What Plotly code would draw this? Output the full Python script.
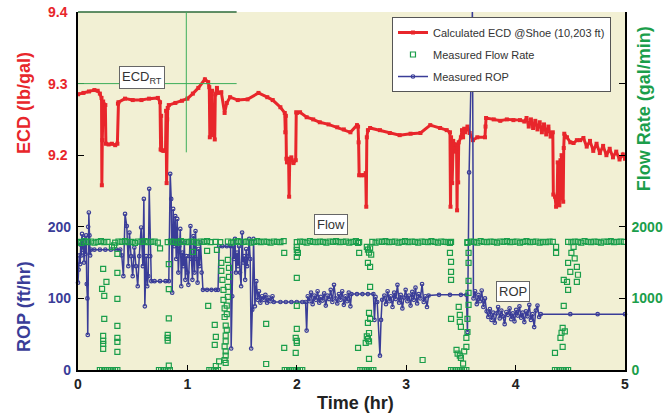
import plotly.graph_objects as go

# ---------------- ECD (lb/gal) vs time (hr) ----------------
ecd_time = [
    0.00, 0.05, 0.10, 0.15, 0.18, 0.20,
    0.215, 0.218, 0.222, 0.23, 0.25, 0.255, 0.28, 0.31, 0.34, 0.36, 0.365,
    0.37, 0.43, 0.50, 0.58, 0.65, 0.73, 0.75,
    0.755, 0.76, 0.765, 0.78, 0.80, 0.805, 0.81, 0.815, 0.82, 0.83,
    0.89, 0.95, 1.00, 1.05, 1.10, 1.16, 1.19, 1.20,
    1.205, 1.21, 1.215, 1.225, 1.23, 1.24, 1.25, 1.255, 1.27,
    1.28, 1.31, 1.34, 1.36, 1.39, 1.46, 1.55, 1.65, 1.73, 1.78, 1.85, 1.89,
    1.895, 1.90, 1.905, 1.91, 1.925, 1.93, 1.935, 1.95, 1.97, 1.99, 1.995,
    2.00, 2.03, 2.09, 2.15, 2.21, 2.29, 2.37, 2.43, 2.49, 2.55,
    2.56, 2.565, 2.57, 2.59, 2.61, 2.63, 2.635, 2.64, 2.65, 2.67,
    2.76, 2.85, 2.94, 3.04, 3.13, 3.22, 3.31, 3.37, 3.40,
    3.405, 3.41, 3.42, 3.43, 3.44, 3.45, 3.46, 3.465, 3.47, 3.475, 3.48, 3.50, 3.51, 3.52, 3.53, 3.54, 3.56,
    3.58, 3.61, 3.65, 3.72, 3.725, 3.73, 3.80, 3.86, 3.92, 3.98, 4.04, 4.08,
    4.10, 4.12, 4.14, 4.16, 4.18, 4.20, 4.22, 4.24, 4.26, 4.28, 4.30, 4.32, 4.34,
    4.345, 4.36, 4.37, 4.38, 4.385, 4.39, 4.40, 4.41, 4.415, 4.42, 4.43, 4.435, 4.44, 4.445,
    4.47, 4.50, 4.53, 4.56, 4.59, 4.62, 4.65, 4.68, 4.71, 4.74, 4.77, 4.80, 4.83, 4.86, 4.89, 4.92, 4.95, 4.98, 5.00,
]
ecd_value = [
    9.285, 9.287, 9.289, 9.291, 9.290, 9.286,
    9.280, 9.158, 9.221, 9.275, 9.270, 9.216, 9.215, 9.216, 9.214, 9.216, 9.272,
    9.274, 9.279, 9.277, 9.277, 9.279, 9.280, 9.274,
    9.208, 9.255, 9.207, 9.206, 9.207, 9.262, 9.161, 9.250, 9.266, 9.270,
    9.273, 9.276, 9.279, 9.286, 9.294, 9.306, 9.302, 9.295,
    9.225, 9.280, 9.230, 9.290, 9.228, 9.232, 9.222, 9.285, 9.294,
    9.287, 9.288, 9.259, 9.273, 9.281, 9.277, 9.278, 9.287, 9.281, 9.277, 9.267, 9.259,
    9.232, 9.255, 9.195, 9.190, 9.195, 9.142, 9.190, 9.197, 9.189, 9.193, 9.260,
    9.259, 9.260, 9.253, 9.250, 9.246, 9.243, 9.239, 9.236, 9.232, 9.242,
    9.240, 9.218, 9.172, 9.172, 9.172, 9.175, 9.128, 9.225, 9.235, 9.238,
    9.235, 9.231, 9.228, 9.230, 9.231, 9.242, 9.238, 9.235, 9.232,
    9.128, 9.225, 9.161, 9.220, 9.215, 9.205, 9.215, 9.123, 9.210, 9.162, 9.218, 9.225, 9.235, 9.225, 9.237, 9.232, 9.240,
    9.231, 9.221, 9.225, 9.225, 9.240, 9.252, 9.250, 9.248, 9.250, 9.249, 9.249, 9.247,
    9.252, 9.240, 9.250, 9.238, 9.248, 9.236, 9.246, 9.232, 9.243, 9.229, 9.240, 9.226, 9.232,
    9.145, 9.142, 9.128, 9.142, 9.190, 9.142, 9.130, 9.193, 9.140, 9.200, 9.195, 9.135, 9.210, 9.230,
    9.225, 9.218, 9.217, 9.221, 9.221, 9.224, 9.212, 9.220, 9.206, 9.216, 9.203, 9.213, 9.200, 9.209, 9.197, 9.205, 9.194, 9.201, 9.195,
]

# ---------------- Measured ROP (ft/hr) ----------------
rop_time = [
    0.000, 0.006, 0.012, 0.020, 0.025, 0.031, 0.037, 0.043, 0.049, 0.055, 0.062, 0.068, 0.074, 0.080, 0.086, 0.089, 0.093, 0.099, 0.105, 0.111,
    0.118, 0.15, 0.20, 0.25, 0.30, 0.35, 0.386,
    0.400, 0.415, 0.430, 0.446, 0.460, 0.470, 0.485, 0.500, 0.515, 0.530, 0.546, 0.560, 0.577, 0.593, 0.602, 0.611, 0.623, 0.633, 0.642, 0.651, 0.660, 0.670,
    0.70, 0.75, 0.80, 0.83,
    0.843, 0.852, 0.861, 0.870, 0.880, 0.889, 0.898, 0.907, 0.917, 0.926, 0.935, 0.944, 0.954, 0.963, 0.972, 0.981, 0.991, 1.000, 1.009, 1.019,
    1.028, 1.037, 1.046, 1.056, 1.065, 1.074, 1.083, 1.093, 1.102, 1.111, 1.120, 1.130, 1.142,
    1.18, 1.22, 1.26, 1.28,
    1.29, 1.32, 1.36, 1.395,
    1.400, 1.410, 1.417, 1.426, 1.435, 1.444, 1.454, 1.463, 1.472, 1.481, 1.491, 1.500, 1.509, 1.519, 1.528, 1.537, 1.546, 1.556, 1.565, 1.574,
    1.583, 1.593, 1.605, 1.617, 1.630, 1.642, 1.654, 1.667, 1.682, 1.698, 1.713, 1.728, 1.744, 1.759, 1.778, 1.790,
    1.85, 1.90, 1.95, 2.00, 2.05, 2.08,
    2.090, 2.100, 2.115, 2.130, 2.145, 2.160, 2.175, 2.190, 2.205, 2.220, 2.235, 2.250, 2.265, 2.280, 2.295, 2.310, 2.325, 2.340, 2.355, 2.370,
    2.385, 2.400, 2.415, 2.430, 2.445, 2.460, 2.475, 2.490,
    2.50, 2.55, 2.60, 2.65, 2.70,
    2.710, 2.720, 2.735, 2.760, 2.770, 2.780,
    2.800, 2.815, 2.830, 2.845, 2.860, 2.875, 2.890, 2.905, 2.920, 2.935, 2.950, 2.965, 2.980, 2.995, 3.010, 3.025, 3.040, 3.055, 3.070, 3.085,
    3.100, 3.115, 3.130, 3.145, 3.160, 3.175, 3.190, 3.205,
    3.30, 3.40, 3.50, 3.55,
    3.560, 3.575, 3.605, 3.615, 3.630, 3.645, 3.660, 3.675, 3.690, 3.705, 3.720,
    3.735, 3.750, 3.765, 3.780, 3.795, 3.810, 3.825, 3.840, 3.855, 3.870, 3.885, 3.900, 3.915, 3.930, 3.945, 3.960, 3.975, 3.990, 4.005, 4.020,
    4.035, 4.050, 4.065, 4.080, 4.095, 4.110, 4.125, 4.140, 4.155, 4.170, 4.185, 4.200, 4.215, 4.230,
    4.50, 4.75, 5.00,
]
rop_value = [
    122, 140, 160, 148, 175, 160, 190, 168, 184, 150, 178, 162, 188, 120, 100, 49, 200, 220, 188, 160,
    168, 168, 168, 168, 168, 168, 168,
    160, 131, 218, 201, 145, 192, 159, 131, 171, 145, 117, 159, 199, 145, 239, 89, 159, 117, 131, 253, 159, 124,
    124, 124, 124, 124,
    274, 239, 108, 225, 173, 215, 155, 211, 136, 173, 197, 117, 164, 145, 178, 126, 159, 136, 119, 159,
    201, 155, 126, 187, 136, 194, 155, 122, 169, 145, 178, 136, 112,
    112, 112, 112, 112,
    173, 173, 173, 173,
    30, 103, 173, 155, 183, 136, 164, 145, 173, 136, 117, 192, 150, 159, 126, 169, 145, 159, 183, 155,
    30, 84, 183, 89, 124, 98, 110, 94, 103, 98, 105, 94, 101, 96, 103, 95,
    95, 95, 95, 95, 95, 95,
    55, 103, 96, 108, 92, 104, 98, 110, 94, 102, 97, 107, 90, 104, 99, 112, 95, 119, 100, 93,
    106, 98, 110, 91, 103, 96, 108, 89,
    106, 106, 106, 106, 106,
    70, 102, 95, 20, 70, 98,
    104, 92, 110, 96, 103, 88, 108, 99, 119, 94, 105, 86, 101, 112, 96, 104, 90, 109, 98, 115,
    93, 106, 100, 120, 95, 103, 88, 104,
    105, 105, 105, 105,
    53, 276, 502, 100, 110, 92, 105, 96, 111, 88, 100,
    82, 74, 85, 70, 80, 66, 79, 88, 72, 83, 75, 64, 81, 77, 86, 71, 79, 68, 84, 76,
    89, 73, 80, 67, 82, 75, 91, 70, 78, 60, 83, 90, 74, 78,
    78, 78, 78,
]

# ---------------- Measured Flow Rate (gal/min) ----------------
flow_time = [
    0.00, 0.03, 0.06, 0.09, 0.12, 0.15, 0.18, 0.21, 0.24, 0.27,
    0.34, 0.37, 0.40, 0.43, 0.46, 0.49, 0.52, 0.55, 0.58, 0.61, 0.64, 0.67, 0.70, 0.73,
    0.82, 0.85, 0.88, 0.91, 0.94, 0.97, 1.00, 1.03, 1.06, 1.09, 1.12, 1.15, 1.18, 1.21,
    1.26, 1.30, 1.37, 1.40, 1.43, 1.46, 1.49, 1.52, 1.55, 1.58, 1.61, 1.64, 1.67, 1.70, 1.73, 1.76, 1.79, 1.82, 1.85, 1.88,
    2.00, 2.03, 2.06, 2.09, 2.12, 2.15, 2.18, 2.21, 2.24, 2.27, 2.30, 2.33, 2.36, 2.39, 2.42, 2.45, 2.48, 2.51, 2.54, 2.57,
    2.69, 2.72, 2.75, 2.78, 2.81, 2.84, 2.87, 2.90, 2.93, 2.96, 2.99, 3.02, 3.05, 3.08, 3.11, 3.14, 3.17, 3.20, 3.23, 3.26,
    3.29, 3.32, 3.35, 3.38, 3.41,
    3.56, 3.59, 3.62, 3.65, 3.68, 3.71, 3.74, 3.77, 3.80, 3.83, 3.86, 3.89, 3.92, 3.95, 3.98, 4.01, 4.04, 4.07, 4.10, 4.13,
    4.16, 4.19, 4.22, 4.25, 4.28, 4.31, 4.34,
    4.48, 4.51, 4.54, 4.57, 4.60, 4.63, 4.66, 4.69, 4.72, 4.75, 4.78, 4.81, 4.84, 4.87, 4.90, 4.93, 4.96, 4.99,
]
flow_rate = [
    1790, 1775, 1800, 1785, 1795, 1780, 1790, 1800, 1785, 1790,
    1780, 1795, 1790, 1800, 1785, 1790, 1775, 1795, 1790, 1800, 1785, 1790, 1795, 1780,
    1785, 1795, 1790, 1780, 1800, 1790, 1785, 1795, 1790, 1780, 1795, 1790, 1800, 1785,
    1790, 1785, 1795, 1780, 1790, 1800, 1785, 1790, 1795, 1780, 1790, 1800, 1785, 1795, 1790, 1780, 1795, 1790, 1785, 1800,
    1785, 1795, 1790, 1780, 1800, 1790, 1785, 1795, 1790, 1780, 1795, 1790, 1800, 1785, 1790, 1795, 1780, 1790, 1800, 1785,
    1790, 1780, 1795, 1790, 1800, 1785, 1790, 1795, 1780, 1790, 1800, 1785, 1795, 1790, 1780, 1795, 1790, 1785, 1800, 1790,
    1780, 1795, 1790, 1785, 1790,
    1785, 1795, 1790, 1780, 1800, 1790, 1785, 1795, 1790, 1780, 1795, 1790, 1800, 1785, 1790, 1795, 1780, 1790, 1800, 1785,
    1790, 1795, 1780, 1790, 1785, 1795, 1790,
    1790, 1785, 1795, 1790, 1780, 1800, 1790, 1785, 1795, 1790, 1780, 1795, 1790, 1800, 1785, 1790, 1795, 1790,
]
# pump-off / pump-on (connection) readings
flow_conn_time = [
    0.20, 0.22, 0.24, 0.26, 0.28, 0.30, 0.32, 0.34, 0.36,
    0.23, 0.26, 0.22, 0.24, 0.24, 0.23, 0.23, 0.23, 0.23, 0.36, 0.36, 0.36, 0.36, 0.36, 0.36, 0.36, 0.31, 0.33,
    0.74, 0.76, 0.78, 0.80, 0.82, 0.84,
    0.75, 0.83, 0.83, 0.83, 0.82, 0.82, 0.82, 0.83,
    1.20, 1.22, 1.24, 1.26, 1.28,
    1.05, 1.18, 1.19, 1.27, 1.31, 1.37, 1.31, 1.38, 1.32, 1.38, 1.33, 1.37, 1.33, 1.37, 1.34, 1.36, 1.34, 1.36,
    1.35, 1.36, 1.35, 1.35, 1.34, 1.35, 1.35, 1.34, 1.35, 1.26, 1.29, 1.25, 1.26, 1.25,
    1.89, 1.91, 1.93, 1.95, 1.97, 1.99, 2.01, 2.03, 2.05,
    1.885, 1.885, 1.72, 1.72, 2.00, 2.00, 2.01, 2.00, 2.00, 2.00, 2.00, 1.99, 2.00, 2.00, 1.99,
    2.58, 2.60, 2.62, 2.64, 2.66, 2.68, 2.70,
    2.56, 2.57, 2.64, 2.65, 2.66, 2.67, 2.68, 2.65, 2.67, 2.67, 2.66, 2.67, 2.65, 2.66, 2.64, 2.65, 2.66, 2.63, 2.56, 2.66, 3.15,
    3.41, 3.43, 3.45, 3.47, 3.49, 3.51, 3.53, 3.55,
    3.40, 3.40, 3.41, 3.41, 3.41, 3.41, 3.48, 3.49, 3.49, 3.50, 3.46, 3.47, 3.49, 3.50,
    3.56, 3.57, 3.57, 3.57, 3.57, 3.57, 3.56, 3.56, 3.55, 3.55, 3.53, 3.52,
    4.36, 4.38, 4.40, 4.42, 4.44, 4.46, 4.48,
    4.37, 4.37, 4.44, 4.47, 4.48, 4.50, 4.51, 4.53, 4.54, 4.56, 4.57, 4.56, 4.48, 4.44, 4.43, 4.42, 4.45, 4.41, 4.43, 4.36,
]
flow_conn_rate = [
    0, 0, 0, 0, 0, 0, 0, 0, 0,
    1413, 1231, 1133, 1035, 713, 476, 406, 364, 294, 1622, 1357, 993, 615, 448, 392, 252, 1720, 1740,
    0, 0, 0, 0, 0, 0,
    1700, 1480, 1130, 720, 490, 450, 410, 60,
    0, 0, 0, 0, 0,
    1650, 1664, 895, 1678, 1497, 1538, 1385, 1427, 1259, 1301, 1120, 1160, 980, 1020, 860, 900, 740, 780,
    620, 560, 480, 400, 330, 260, 200, 140, 100, 56, 120, 630, 462, 350,
    0, 0, 0, 0, 0, 0, 0, 0, 0,
    1636, 308, 643, 84, 1720, 1678, 1636, 1580, 1287, 895, 573, 448, 406, 378, 238,
    0, 0, 0, 0, 0, 0, 0,
    1776, 1636, 1720, 1680, 1640, 1700, 1610, 1497, 1440, 1161, 797, 713, 657, 517, 470, 430, 400, 378, 308, 154, 140,
    0, 0, 0, 0, 0, 0, 0, 0,
    1776, 1636, 1510, 1371, 1259, 713, 881, 769, 671, 601, 280, 230, 200, 168,
    1776, 1636, 1496, 1245, 1077, 909, 713, 531, 448, 322, 260, 90,
    0, 0, 0, 0, 0, 0, 0,
    1720, 1636, 1259, 1231, 1497, 1371, 1636, 1720, 1560, 1440, 1330, 1231, 1119, 895, 587, 520, 540, 450, 322, 238,
]

# ---------------- tick labels ----------------
time_ticks = [0, 1, 2, 3, 4, 5]
ecd_ticks = [9.2, 9.3, 9.4]
rop_ticks = [0, 100, 200]
flow_ticks = [0, 1000, 2000]

RED = "#e8262b"
BLUE = "#3a3d98"
GREEN = "#1b9e4b"
FONT = "Liberation Sans, Arial, sans-serif"

fig = go.Figure()

fig.add_trace(go.Scatter(
    x=ecd_time, y=ecd_value, name="Calculated ECD @Shoe (10,203 ft)",
    mode="lines+markers", yaxis="y", legendgroup="a",
    line=dict(color=RED, width=3), marker=dict(color=RED, size=4, symbol="square"),
))
fig.add_trace(go.Scatter(
    x=flow_time + flow_conn_time, y=flow_rate + flow_conn_rate, name="Measured Flow Rate",
    mode="markers", yaxis="y3", legendgroup="b",
    marker=dict(color=GREEN, size=5, symbol="square-open", line=dict(width=1.2, color=GREEN)),
))
fig.add_trace(go.Scatter(
    x=rop_time, y=rop_value, name="Measured ROP",
    mode="lines+markers", yaxis="y2", cliponaxis=False, legendgroup="c",
    line=dict(color=BLUE, width=1.5), marker=dict(color=BLUE, size=3.5, symbol="circle-open", line=dict(width=1.2)),
))

fig.update_layout(
    width=667, height=413,
    margin=dict(l=78, r=42, t=12, b=43, autoexpand=False),
    paper_bgcolor="white", plot_bgcolor="#f2f0d4",
    font=dict(family=FONT),
    xaxis=dict(
        range=[0, 5], tickvals=time_ticks, ticktext=[f"<b>{v}</b>" for v in time_ticks],
        tickfont=dict(family=FONT, size=14, color="#222"),
        ticks="inside", ticklen=5, tickcolor="black",
        showline=True, linecolor="black", linewidth=1.5,
        showgrid=False, zeroline=False, automargin=False,
    ),
    yaxis=dict(
        range=[8.9, 9.4], tickvals=ecd_ticks, ticktext=[f"<b>{v}</b>" for v in ecd_ticks],
        tickfont=dict(family=FONT, size=14, color=RED),
        ticks="inside", ticklen=6, tickcolor="black", mirror="ticks",
        showline=True, linecolor="black", linewidth=1.5,
        showgrid=False, zeroline=False, ticklabelstandoff=6, automargin=False,
    ),
    yaxis2=dict(
        range=[0, 500], overlaying="y", side="left", tickvals=rop_ticks,
        ticktext=[f"<b>{v}</b>" for v in rop_ticks],
        tickfont=dict(family=FONT, size=14, color=BLUE),
        ticks="inside", ticklen=6, tickcolor="black",
        showline=False, showgrid=False, zeroline=False, ticklabelstandoff=6, automargin=False,
    ),
    yaxis3=dict(
        range=[0, 5000], overlaying="y", side="right", tickvals=flow_ticks,
        ticktext=[f"<b>{v}</b>" for v in flow_ticks],
        tickfont=dict(family=FONT, size=14, color=GREEN),
        ticks="inside", ticklen=6, tickcolor="black",
        showline=True, linecolor="black", linewidth=1.5,
        showgrid=False, zeroline=False, ticklabelstandoff=2, automargin=False,
    ),
    legend=dict(
        x=0.574, y=0.986, xanchor="left", yanchor="top",
        bgcolor="white", bordercolor="#555", borderwidth=1,
        font=dict(family=FONT, size=11, color="#333"),
        itemwidth=30, tracegroupgap=3,
    ),
    showlegend=True,
)

# crosshair / top reference lines
fig.add_shape(type="line", xref="x", yref="paper", x0=0, x1=1.45, y0=1, y1=1,
              line=dict(color="#2c6b3a", width=1.5))
fig.add_shape(type="line", xref="x", yref="y", x0=0, x1=1.45, y0=9.3, y1=9.3,
              line=dict(color="#3cae5a", width=1))
fig.add_shape(type="line", xref="x", yref="y", x0=0.99, x1=0.99, y0=9.4, y1=9.204,
              line=dict(color="#3cae5a", width=1))

box = dict(bgcolor="white", bordercolor="#666", borderwidth=1, borderpad=2,
           font=dict(family=FONT, size=13, color="#333"), showarrow=False,
           xanchor="center", yanchor="middle")
fig.add_annotation(x=0.585, y=9.309, xref="x", yref="y", text="ECD<sub>RT</sub>", **box)
fig.add_annotation(x=2.317, y=203, xref="x", yref="y2", text="Flow", **box)
fig.add_annotation(x=3.976, y=110, xref="x", yref="y2", text="ROP", **box)

# axis titles
title_common = dict(xref="paper", yref="paper", showarrow=False, xanchor="center", yanchor="middle")
fig.add_annotation(x=-0.0987, y=0.746, text="<b>ECD (lb/gal)</b>", textangle=-90,
                   font=dict(family=FONT, size=18, color=RED), **title_common)
fig.add_annotation(x=-0.0987, y=0.176, text="<b>ROP (ft/hr)</b>", textangle=-90,
                   font=dict(family=FONT, size=18, color=BLUE), **title_common)
fig.add_annotation(x=1.035, y=0.729, text="<b>Flow Rate (gal/min)</b>", textangle=-90,
                   font=dict(family=FONT, size=18, color=GREEN), **title_common)
fig.add_annotation(x=0.508, y=-0.092, text="<b>Time (hr)</b>",
                   font=dict(family=FONT, size=18, color="#222"), **title_common)

fig.write_html("out.html", config={"displayModeBar": False},
               post_script="document.body.style.margin='0px';")
